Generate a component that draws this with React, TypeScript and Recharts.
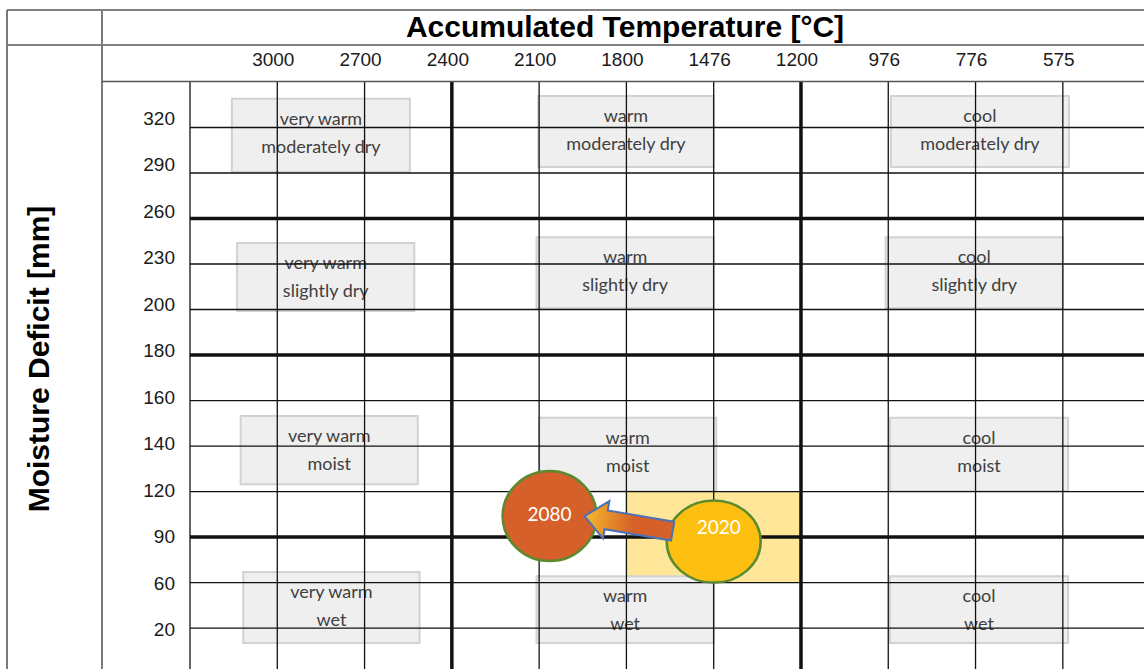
import React from "react";
import { ComposedChart, XAxis, YAxis, ReferenceLine, ReferenceArea, Scatter } from "recharts";

// grid index positions: column i sits on the i-th temperature class line, row j on the j-th moisture line
const tempTicks = [1, 2, 3, 4, 5, 6, 7, 8, 9, 10];
const tempLabels = ["3000", "2700", "2400", "2100", "1800", "1476", "1200", "976", "776", "575"];
const tempGrid = [0, 1, 2, 3, 4, 5, 6, 7, 8, 9, 10];
const tempMajor = [3, 7];

const moistTicks = [0, 1, 2, 3, 4, 5, 6, 7, 8, 9, 10, 11];
const moistLabels = ["320", "290", "260", "230", "200", "180", "160", "140", "120", "90", "60", "20"];
const moistGrid = [1, 2, 3, 4, 5, 6, 7, 8, 9, 10, 11, 12];
const moistMajor = [3, 6, 10];

const zones = [
  { temp: "very warm", moist: "moderately dry", x1: 0.48, x2: 2.52, y1: 0.37, y2: 1.98 },
  { temp: "warm", moist: "moderately dry", x1: 3.99, x2: 6.0, y1: 0.31, y2: 1.87 },
  { temp: "cool", moist: "moderately dry", x1: 8.03, x2: 10.07, y1: 0.31, y2: 1.87 },
  { temp: "very warm", moist: "slightly dry", x1: 0.54, x2: 2.57, y1: 3.54, y2: 5.03 },
  { temp: "warm", moist: "slightly dry", x1: 3.97, x2: 6.0, y1: 3.41, y2: 4.97 },
  { temp: "cool", moist: "slightly dry", x1: 7.97, x2: 10.0, y1: 3.41, y2: 4.97 },
  { temp: "very warm", moist: "moist", x1: 0.58, x2: 2.61, y1: 7.34, y2: 8.84 },
  { temp: "warm", moist: "moist", x1: 4.0, x2: 6.03, y1: 7.38, y2: 8.99 },
  { temp: "cool", moist: "moist", x1: 8.02, x2: 10.06, y1: 7.38, y2: 8.99 },
  { temp: "very warm", moist: "wet", x1: 0.61, x2: 2.63, y1: 10.77, y2: 12.33 },
  { temp: "warm", moist: "wet", x1: 3.97, x2: 6.0, y1: 10.86, y2: 12.33 },
  { temp: "cool", moist: "wet", x1: 8.02, x2: 10.06, y1: 10.86, y2: 12.33 },
];

const highlight = { x1: 5, x2: 7, y1: 9, y2: 11 };

const years = [
  { year: "2080", x: 4.12, y: 9.54 },
  { year: "2020", x: 6.0, y: 10.1 },
];

const shiftFrom = { x: 5.53, y: 9.87 };
const shiftTo = { x: 4.52, y: 9.54 };

const bubbleStyle: Record<string, { fill: string; rx: number; ry: number; dx: number; dy: number }> = {
  "2080": { fill: "#d5602a", rx: 47, ry: 45, dx: 0, dy: -3 },
  "2020": { fill: "#fdbf10", rx: 47, ry: 41, dx: 5, dy: -15 },
};

const boxFont = "Lato, 'Open Sans', sans-serif";
const axisFont = "'Liberation Sans', Arial, sans-serif";

function ZoneText({ viewBox, zone }: any) {
  if (!viewBox) return null;
  const cx = viewBox.x + viewBox.width / 2;
  const style = { fontFamily: boxFont, fontSize: 18, fill: "#404040" };
  return (
    <g>
      <text x={cx} y={viewBox.y + 19} textAnchor="middle" dominantBaseline="central" style={style}>
        {zone.temp}
      </text>
      <text x={cx} y={viewBox.y + 47} textAnchor="middle" dominantBaseline="central" style={style}>
        {zone.moist}
      </text>
    </g>
  );
}

function Bubble(props: any) {
  const { cx, cy, payload } = props;
  const s = bubbleStyle[payload.year];
  return (
    <g>
      <ellipse cx={cx} cy={cy} rx={s.rx} ry={s.ry} fill={s.fill} stroke="#5b8a31" strokeWidth={2.5} />
      <text
        x={cx + s.dx}
        y={cy + s.dy}
        textAnchor="middle"
        dominantBaseline="central"
        style={{ fontFamily: boxFont, fontSize: 19, fill: "#fff" }}
      >
        {payload.year}
      </text>
    </g>
  );
}

function ShiftArrow(props: any) {
  const { x1, y1, x2, y2 } = props;
  const len = Math.hypot(x2 - x1, y2 - y1);
  const ux = (x2 - x1) / len;
  const uy = (y2 - y1) / len;
  const nx = -uy;
  const ny = ux;
  const body = 9.5;
  const head = 19;
  const headLen = 22;
  const bx = x2 - ux * headLen;
  const by = y2 - uy * headLen;
  const pts = [
    [x1 + nx * body, y1 + ny * body],
    [bx + nx * body, by + ny * body],
    [bx + nx * head, by + ny * head],
    [x2, y2],
    [bx - nx * head, by - ny * head],
    [bx - nx * body, by - ny * body],
    [x1 - nx * body, y1 - ny * body],
  ]
    .map((p) => p.join(","))
    .join(" ");
  return (
    <g>
      <defs>
        <linearGradient id="shiftGrad" gradientUnits="userSpaceOnUse" x1={x2} y1={y2} x2={x2 - ux * 50} y2={y2 - uy * 50}>
          <stop offset="0%" stopColor="#f6b82c" />
          <stop offset="100%" stopColor="#d5602a" />
        </linearGradient>
      </defs>
      <polygon points={pts} fill="url(#shiftGrad)" stroke="#4a72b8" strokeWidth={2} strokeLinejoin="miter" />
    </g>
  );
}

export default function App() {
  return (
    <div style={{ position: "absolute", left: 0, top: 0, width: 1144, height: 669, background: "#fff" }}>
      <ComposedChart width={1144} height={669} margin={{ top: 0, right: 0, bottom: 0, left: 0 }}>
        <XAxis
          xAxisId="g"
          type="number"
          dataKey="x"
          orientation="top"
          domain={[0, 10.93]}
          allowDataOverflow
          ticks={tempTicks}
          interval={0}
          tickFormatter={(v) => tempLabels[v - 1]}
          height={82}
          tickSize={0}
          tickMargin={16}
          axisLine={false}
          tickLine={false}
          tick={{ fontFamily: axisFont, fontSize: 19, fill: "#1a1a1a", dx: -4 }}
        />
        <YAxis
          yAxisId="lbl"
          type="number"
          domain={[-0.7742, 11.8495]}
          allowDataOverflow
          reversed
          ticks={moistTicks}
          interval={0}
          tickFormatter={(v) => moistLabels[v]}
          width={190}
          tickSize={0}
          tickMargin={15}
          axisLine={false}
          tickLine={false}
          tick={{ fontFamily: axisFont, fontSize: 19, fill: "#1a1a1a" }}
        />
        <YAxis yAxisId="g" type="number" dataKey="y" domain={[0, 12.9]} allowDataOverflow reversed hide width={0} />

        <ReferenceArea
          xAxisId="g"
          yAxisId="g"
          x1={highlight.x1}
          x2={highlight.x2}
          y1={highlight.y1}
          y2={highlight.y2}
          fill="#ffe699"
          fillOpacity={1}
          stroke="none"
        />
        {zones.map((z, i) => (
          <ReferenceArea
            key={"box" + i}
            xAxisId="g"
            yAxisId="g"
            x1={z.x1}
            x2={z.x2}
            y1={z.y1}
            y2={z.y2}
            fill="#efefef"
            fillOpacity={1}
            stroke="#d2d2d2"
            strokeWidth={2}
          />
        ))}

        {tempGrid.map((v) => (
          <ReferenceLine
            key={"vx" + v}
            xAxisId="g"
            yAxisId="g"
            x={v}
            stroke="#111"
            strokeWidth={tempMajor.includes(v) ? 3.5 : 1.3}
          />
        ))}
        {moistGrid.map((v) => (
          <ReferenceLine
            key={"hy" + v}
            xAxisId="g"
            yAxisId="g"
            y={v}
            stroke="#111"
            strokeWidth={moistMajor.includes(v) ? 3.5 : 1.3}
          />
        ))}

        {zones.map((z, i) => (
          <ReferenceArea
            key={"txt" + i}
            xAxisId="g"
            yAxisId="g"
            x1={z.x1}
            x2={z.x2}
            y1={z.y1}
            y2={z.y2}
            fill="none"
            fillOpacity={0}
            stroke="none"
            label={(p: any) => <ZoneText viewBox={p.viewBox} zone={z} />}
          />
        ))}

        <Scatter xAxisId="g" yAxisId="g" data={years} dataKey="y" shape={Bubble} isAnimationActive={false} />

        <ReferenceLine
          xAxisId="g"
          yAxisId="g"
          segment={[shiftFrom, shiftTo]}
          shape={ShiftArrow}
          zIndex={700}
        />
      </ComposedChart>

      <svg
        width={1144}
        height={669}
        style={{ position: "absolute", left: 0, top: 0, pointerEvents: "none" }}
      >
        <line x1={7} y1={10} x2={7} y2={669} stroke="#333" strokeWidth={1.3} />
        <line x1={102} y1={10} x2={102} y2={669} stroke="#333" strokeWidth={1.3} />
        <line x1={7} y1={10} x2={1144} y2={10} stroke="#808080" strokeWidth={2} />
        <line x1={7} y1={45} x2={1144} y2={45} stroke="#808080" strokeWidth={2} />
        <line x1={102} y1={81.5} x2={1144} y2={81.5} stroke="#555" strokeWidth={1.5} />
        <text
          x={625}
          y={37}
          textAnchor="middle"
          style={{ fontFamily: axisFont, fontWeight: 700, fontSize: 30, fill: "#000" }}
        >
          Accumulated Temperature [°C]
        </text>
        <text
          transform="translate(49, 359) rotate(-90)"
          textAnchor="middle"
          style={{ fontFamily: axisFont, fontWeight: 700, fontSize: 30, fill: "#000" }}
        >
          Moisture Deficit [mm]
        </text>
      </svg>
    </div>
  );
}
